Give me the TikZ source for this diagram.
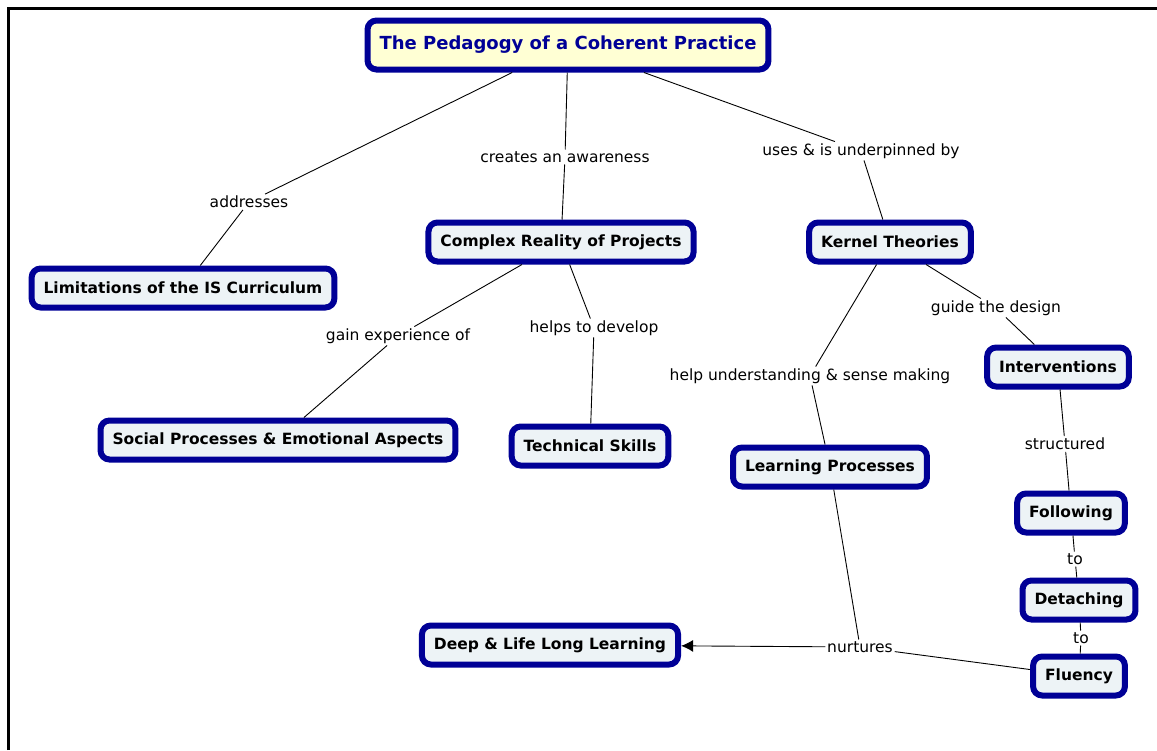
\documentclass[tikz,border=0pt]{standalone}
\usepackage{fontspec}
\setmainfont{DejaVu Sans}
\usetikzlibrary{positioning,arrows.meta}
\definecolor{mapblue}{HTML}{000096}
\definecolor{mapfill}{HTML}{EDF3F6}
\definecolor{mapyellow}{HTML}{FFFFD4}
\begin{document}
\begin{tikzpicture}[x=1pt,y=-1pt,
  concept/.style={draw=mapblue,line width=6pt,rounded corners=9pt,fill=mapfill,
    font=\bfseries\fontsize{15.5}{18}\selectfont,inner xsep=12pt,minimum height=39pt},
  link/.style={font=\fontsize{15.5}{18}\selectfont,inner sep=1.5pt},
  every path/.style={line width=0.9pt}]
\useasboundingbox (0,0) rectangle (1157,750);
\draw[line width=3pt] (8,750) -- (8,8) -- (1157,8);
\node[concept,fill=mapyellow,text=mapblue,font=\bfseries\fontsize{18}{21}\selectfont,
  minimum height=49pt] (top) at (568,45) {The Pedagogy of a Coherent Practice};
\node[concept] (lim) at (183,288) {Limitations of the IS Curriculum};
\node[concept] (cplx) at (561,242) {Complex Reality of Projects};
\node[concept] (kern) at (890,242) {Kernel Theories};
\node[concept] (soc) at (278,440) {Social Processes \& Emotional Aspects};
\node[concept] (tech) at (590,446) {Technical Skills};
\node[concept] (learn) at (830,467) {Learning Processes};
\node[concept] (inter) at (1058,367) {Interventions};
\node[concept] (follow) at (1071,513) {Following};
\node[concept] (detach) at (1079,600) {Detaching};
\node[concept] (flu) at (1079,676) {Fluency};
\node[concept] (deep) at (550,645) {Deep \& Life Long Learning};
% linking phrases
\node[link] (addr) at (249,202) {addresses};
\node[link] (aware) at (565,157) {creates an awareness};
\node[link] (uses) at (861,151) {uses \& is underpinned by};
\node[link] (gain) at (398,336) {gain experience of};
\node[link] (helps) at (594,328) {helps to develop};
\node[link] (sense) at (810,376) {help understanding \& sense making};
\node[link] (guide) at (996,308) {guide the design};
\node[link] (struct) at (1065,444) {structured};
\node[link] (toa) at (1075,559) {to};
\node[link] (tob) at (1081,638) {to};
\node[link] (nurt) at (860,647) {nurtures};
\draw (top) -- (addr) -- (lim);
\draw (top) -- (aware) -- (cplx);
\draw (top) -- (uses) -- (kern);
\draw (cplx) -- (gain) -- (soc);
\draw (cplx) -- (helps) -- (tech);
\draw (kern) -- (sense) -- (learn);
\draw (kern) -- (guide) -- (inter);
\draw (inter) -- (struct) -- (follow);
\draw (follow) -- (toa) -- (detach);
\draw (detach) -- (tob) -- (flu);
\draw (learn) -- (nurt);
\draw (flu) -- (nurt);
\draw[-{Latex[length=12pt,width=12pt]}] (nurt) -- (deep);
\end{tikzpicture}
\end{document}
